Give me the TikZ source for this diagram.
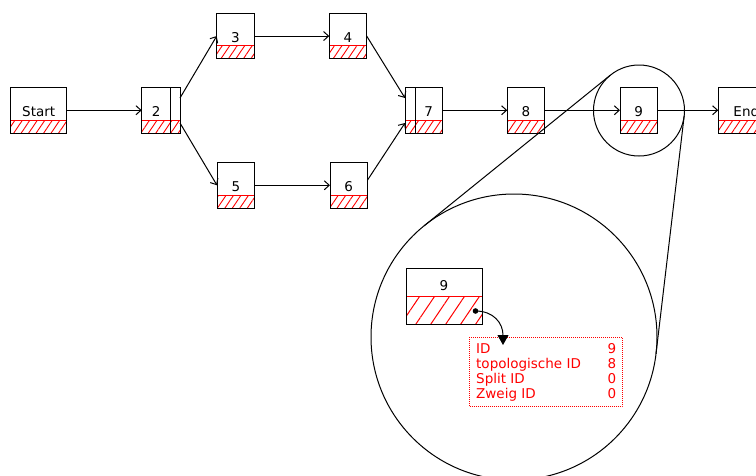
\documentclass[tikz,border=0pt]{standalone}
\usepackage{fontspec}
\setmainfont{DejaVu Sans}
\usetikzlibrary{calc,arrows.meta,patterns.meta}

\tikzset{
  box/.style={draw, line width=1pt, rectangle, outer sep=0pt, inner sep=0pt,
              minimum height=45.5pt, anchor=north west},
  lbl/.style={font=\fontsize{13.5}{15}\selectfont, inner sep=0pt, anchor=base},
  hatch/.style={pattern={Lines[angle=56,distance=6.2pt,line width=0.9pt]}, pattern color=red},
  bighatch/.style={pattern={Lines[angle=56,distance=12.4pt,line width=1pt]}, pattern color=red},
  flow/.style={line width=1pt, -{Straight Barb[length=5pt,width=9pt]}},
  ring/.style={circle, draw, line width=1pt, inner sep=0pt, outer sep=0pt},
  info/.style={font=\fontsize{13.5}{15}\selectfont, text=red, inner sep=0pt},
}

% task box: [label shift]{name}{left}{top}{width}{label}
\newcommand{\taskbox}[6][0]{%
  \node[box, minimum width=#5pt] (#2) at (#3,#4) {};
  \fill[hatch] (#2.south west) rectangle ($(#2.south east)+(0,-13)$);
  \draw[red, line width=1pt] ($(#2.south west)+(0,-13)$) -- ($(#2.south east)+(0,-13)$);
  \draw[line width=1pt] (#2.south west) rectangle (#2.north east);
  \node[lbl] (#2-t) at ($(#2.south)+(#1,-16.7)$) {#6};
}

\begin{document}
\begin{tikzpicture}[x=1pt,y=-1pt]
\useasboundingbox (0,0) rectangle (756,475);

% process graph
\taskbox{start}{10.7}{87.5}{56}{Start}
\taskbox[-4.75]{n2}{141.7}{87.5}{38.3}{2}
\taskbox{n3}{216.7}{13.3}{37.6}{3}
\taskbox{n4}{329.3}{13.3}{37.4}{4}
\taskbox{n5}{217}{162.5}{37.6}{5}
\taskbox{n6}{330}{162.5}{37.4}{6}
\taskbox[5]{n7}{405}{87.5}{37.3}{7}
\taskbox{n8}{507.3}{87.5}{37}{8}
\taskbox{n9}{620}{87.5}{37.3}{9}
\taskbox{end}{718.3}{87.5}{56}{End}

% split / join markers
\draw[line width=1pt] ($(n2.north east)+(-9.5,0)$) -- ($(n2.south east)+(-9.5,0)$);
\draw[line width=1pt] ($(n7.north west)+(10,0)$) -- ($(n7.south west)+(10,0)$);

% edges
\draw[flow] (start.east) -- (n2.west);
\draw[flow] ($(n2.east)+(0,-12.25)$) -- (n3.west);
\draw[flow] ($(n2.east)+(0,12.75)$) -- (n5.west);
\draw[flow] (n3.east) -- (n4.west);
\draw[flow] (n5.east) -- (n6.west);
\draw[flow] (n4.east) -- ($(n7.west)+(0,-12.25)$);
\draw[flow] ($(n6.east)+(0,-5)$) -- ($(n7.west)+(0,12.75)$);
\draw[flow] (n7.east) -- (n8.west);
\draw[flow] (n8.east) -- (n9.west);
\draw[flow] (n9.east) -- (end.west);

% magnifier
\node[ring, minimum size=91pt] (lens) at (639,110.5) {};
\node[ring, minimum size=286pt] (loupe) at (514,337) {};
\coordinate (hc) at (697.3,4.8);
\draw[line width=1pt] (tangent cs:node=lens,point={(hc)},solution=1)
  -- (tangent cs:node=loupe,point={(hc)},solution=1);
\draw[line width=1pt] (tangent cs:node=lens,point={(hc)},solution=2)
  -- (tangent cs:node=loupe,point={(hc)},solution=2);

% enlarged task 9
\node[box, minimum width=76pt, minimum height=56.5pt] (z9) at (406,268) {};
\fill[bighatch] (z9.south west) rectangle ($(z9.south east)+(0,-28)$);
\draw[red, line width=1.2pt] ($(z9.south west)+(0,-28)$) -- ($(z9.south east)+(0,-28)$);
\draw[line width=1pt] (z9.south west) rectangle (z9.north east);
\node[lbl] (z9-t) at ($(z9.south)+(0,-34.5)$) {9};

% attribute table
\node[draw=red, dash pattern=on 1pt off 1pt, line width=0.9pt, inner sep=0pt,
      outer sep=0pt, minimum width=152.5pt, minimum height=69pt, anchor=north west]
      (tab) at (469.5,337) {};
\node[info, anchor=base west] (k1) at (476,353) {ID};
\node[info, anchor=base west] (k2) at (476,368) {topologische ID};
\node[info, anchor=base west] (k3) at (476,383) {Split ID};
\node[info, anchor=base west] (k4) at (476,398) {Zweig ID};
\node[info, anchor=base east] (v1) at (616.5,353) {9};
\node[info, anchor=base east] (v2) at (616.5,368) {8};
\node[info, anchor=base east] (v3) at (616.5,383) {0};
\node[info, anchor=base east] (v4) at (616.5,398) {0};

% pointer from task to its attributes
\coordinate (pin) at (475.5,311);
\coordinate (pinend) at (503,345);
\fill (pin) circle (2.8pt);
\draw[line width=1pt, -{Triangle[length=10pt,width=11pt]}]
  (pin) .. controls +(18,0) and +(0,-22) .. (pinend);
\end{tikzpicture}
\end{document}
